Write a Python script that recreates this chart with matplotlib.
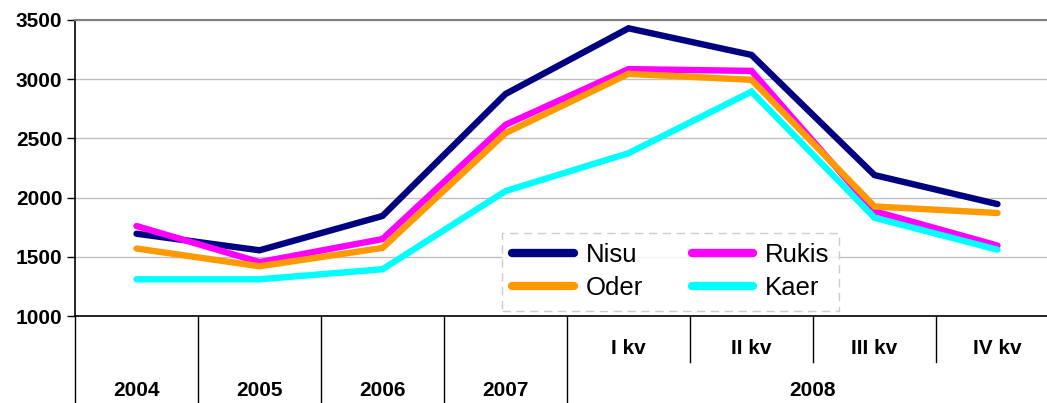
import matplotlib.pyplot as plt

# x categories (two-level axis)
periods = ["2004", "2005", "2006", "2007", "I kv", "II kv", "III kv", "IV kv"]
years = ["2004", "2005", "2006", "2007", "2008"]
quarters = ["I kv", "II kv", "III kv", "IV kv"]

nisu = [1695, 1555, 1845, 2875, 3430, 3205, 2190, 1945]
rukis = [1760, 1455, 1650, 2615, 3085, 3070, 1885, 1595]
oder = [1570, 1420, 1575, 2545, 3045, 2995, 1925, 1870]
kaer = [1310, 1310, 1395, 2055, 2375, 2895, 1830, 1560]

plt.rcParams['font.family'] = ['Liberation Sans', 'DejaVu Sans']

fig = plt.figure(figsize=(10.47, 4.03), dpi=100)
ax = fig.add_axes([75 / 1047, 87 / 403, 984 / 1047, 296 / 403])

x = list(range(len(periods)))
lw = 4.6
style = dict(lw=lw, solid_capstyle='round', solid_joinstyle='miter')
l_nisu, = ax.plot(x, nisu, color='#000080', label='Nisu', **style)
l_rukis, = ax.plot(x, rukis, color='#FF00FF', label='Rukis', **style)
l_oder, = ax.plot(x, oder, color='#FF9900', label='Oder', **style)
l_kaer, = ax.plot(x, kaer, color='#00FFFF', label='Kaer', **style)

ax.set_xlim(-0.5, len(periods) - 0.5)
ax.set_ylim(1000, 3500)
ax.set_yticks([1000, 1500, 2000, 2500, 3000, 3500])
ax.tick_params(axis='y', labelsize=15, length=6, width=1, direction='out', pad=3)
for t in ax.get_yticklabels():
    t.set_fontweight('bold')
ax.set_xticks([])
ax.yaxis.grid(True, color='#C0C0C0', lw=1)
ax.set_axisbelow(True)

ax.spines['right'].set_visible(False)
ax.spines['top'].set_color('#808080')
ax.spines['top'].set_linewidth(1.5)
ax.spines['left'].set_linewidth(1.2)
ax.spines['bottom'].set_linewidth(1.2)

# category axis drawn below the plot
tr = ax.get_xaxis_transform()
bottom = -87 / 296
qline = -46 / 296
for xs in [-0.5, 0.5, 1.5, 2.5, 3.5]:
    ax.plot([xs, xs], [0, bottom], color='black', lw=1, transform=tr, clip_on=False)
for xs in [4.5, 5.5, 6.5, 7.5]:
    ax.plot([xs, xs], [0, qline], color='black', lw=1, transform=tr, clip_on=False)

for i, q in enumerate(quarters):
    ax.text(4 + i, -33 / 296, q, transform=tr, ha='center', va='center',
            fontsize=15, fontweight='bold')
for i, yr in enumerate(years[:4]):
    ax.text(i, -75 / 296, yr, transform=tr, ha='center', va='center',
            fontsize=15, fontweight='bold')
ax.text(5.5, -75 / 296, years[4], transform=tr, ha='center', va='center',
        fontsize=15, fontweight='bold')

leg = ax.legend([l_nisu, l_oder, l_rukis, l_kaer], ['Nisu', 'Oder', 'Rukis', 'Kaer'],
                ncol=2, loc='upper left', bbox_to_anchor=(427 / 984, 83 / 296),
                fontsize=18.5, frameon=True, fancybox=False, handlelength=2.4,
                columnspacing=1.9, borderpad=0.4, labelspacing=0.35, handletextpad=0.45,
                borderaxespad=0)
fr = leg.get_frame()
fr.set_edgecolor('#C0C0C0')
fr.set_linestyle((0, (6, 4)))
fr.set_linewidth(1)
for h in leg.get_lines():
    h.set_linewidth(6)

fig.savefig('out.png', dpi=100)
